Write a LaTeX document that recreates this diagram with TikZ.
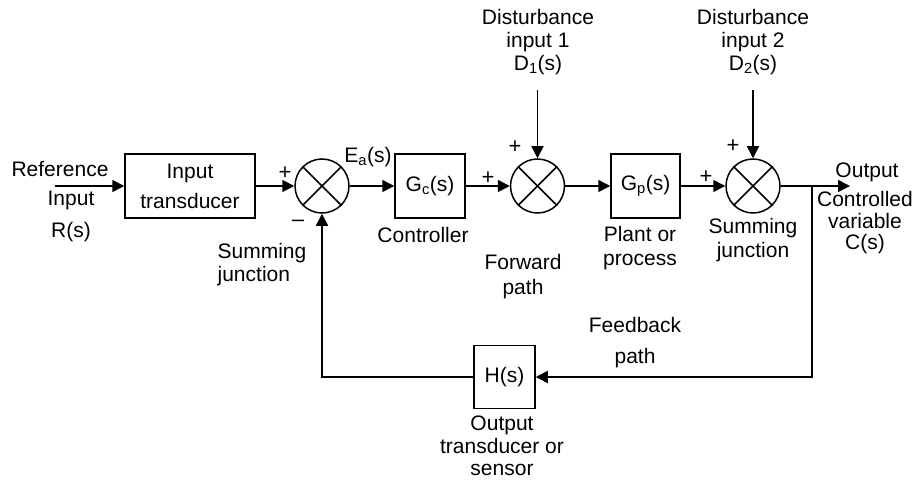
\documentclass[tikz,border=0pt]{standalone}
\usepackage{fontspec}
\setmainfont{Liberation Sans}
\usetikzlibrary{arrows.meta}
\begin{document}
\begin{tikzpicture}[x=1pt,y=-1pt,
  line width=1.5pt,
  arr/.style={-{Triangle[length=12pt,width=12pt]}},
  blk/.style={draw,minimum height=64pt,inner sep=0pt,align=center},
  sj/.style={draw,circle,minimum size=54pt,inner sep=0pt},
  lbl/.style={font=\fontsize{21}{23}\selectfont,inner sep=0pt,align=center},
  sgn/.style={font=\fontsize{22}{22}\selectfont,inner sep=0pt}]
\useasboundingbox (0,0) rectangle (917,481);
\fontsize{21}{23}\selectfont
% blocks
\node[blk,minimum width=130pt,font=\fontsize{21}{30}\selectfont] (it) at (190,186) {Input\\transducer};
\node[blk,minimum width=70pt,font=\fontsize{21}{23}\selectfont] (gc) at (430,186) {G\textsubscript{c}(s)};
\node[blk,minimum width=69pt,font=\fontsize{21}{23}\selectfont] (gp) at (645.5,186) {G\textsubscript{p}(s)};
\node[blk,minimum width=61pt,minimum height=63pt,font=\fontsize{21}{23}\selectfont] (h) at (504.5,377) {H(s)};
% summing junctions
\foreach \n/\x in {j1/322,j2/537.5,j3/753}{
  \node[sj] (\n) at (\x,186) {};
  \draw (\n.north west) -- (\n.south east);
  \draw (\n.north east) -- (\n.south west);
}
% coordinates
\coordinate (rin) at (55,186);
\coordinate (out) at (850,186);
\coordinate (br) at (812,186);
\coordinate (d1) at (537.5,90);
\coordinate (d2) at (753,90);
% connectors
\draw[arr] (rin) -- (it.west);
\draw[arr] (it.east) -- (j1.west);
\draw[arr] (j1.east) -- (gc.west);
\draw[arr] (gc.east) -- (j2.west);
\draw[arr] (j2.east) -- (gp.west);
\draw[arr] (gp.east) -- (j3.west);
\draw[arr] (j3.east) -- (out);
\draw[arr] (br) |- (h.east);
\draw[arr] (h.west) -| (j1.south);
\draw[arr] (d1) -- (j2.north);
\draw[arr] (d2) -- (j3.north);
% labels
\node[lbl] (tref) at (60,169) {Reference};
\node[lbl,font=\fontsize{21}{32}\selectfont] (tin) at (71,216) {Input\\R(s)};
\node[lbl,align=left] (tsj1) at (262,265) {Summing\\junction};
\node[lbl] (tea) at (368,157) {E\textsubscript{a}(s)};
\node[lbl] (tctl) at (423,235) {Controller};
\node[lbl,font=\fontsize{21}{25}\selectfont] (tfwd) at (523,277) {Forward\\path};
\node[lbl,font=\fontsize{21}{24}\selectfont] (tpl) at (640,248) {Plant or\\process};
\node[lbl,font=\fontsize{21}{24}\selectfont] (tsj2) at (753,240) {Summing\\junction};
\node[lbl] (tout) at (867,172) {Output};
\node[lbl,font=\fontsize{21}{21.5}\selectfont] (tcv) at (865,223) {Controlled\\variable\\C(s)};
\node[lbl,font=\fontsize{21}{31}\selectfont] (tfb) at (635,343) {Feedback\\path};
\node[lbl,font=\fontsize{21}{22.5}\selectfont] (tsen) at (502,446) {Output\\transducer or\\sensor};
\node[lbl] (td1) at (538,42) {Disturbance\\input 1\\D\textsubscript{1}(s)};
\node[lbl] (td2) at (753,42) {Disturbance\\input 2\\D\textsubscript{2}(s)};
% signs
\node[sgn] (p1) at (285,173) {+};
\node[sgn] (m1) at (298,223) {\textendash};
\node[sgn] (p2) at (488,178) {+};
\node[sgn] (p3) at (515,147) {+};
\node[sgn] (p4) at (706,177) {+};
\node[sgn] (p5) at (733,146) {+};
\end{tikzpicture}
\end{document}
